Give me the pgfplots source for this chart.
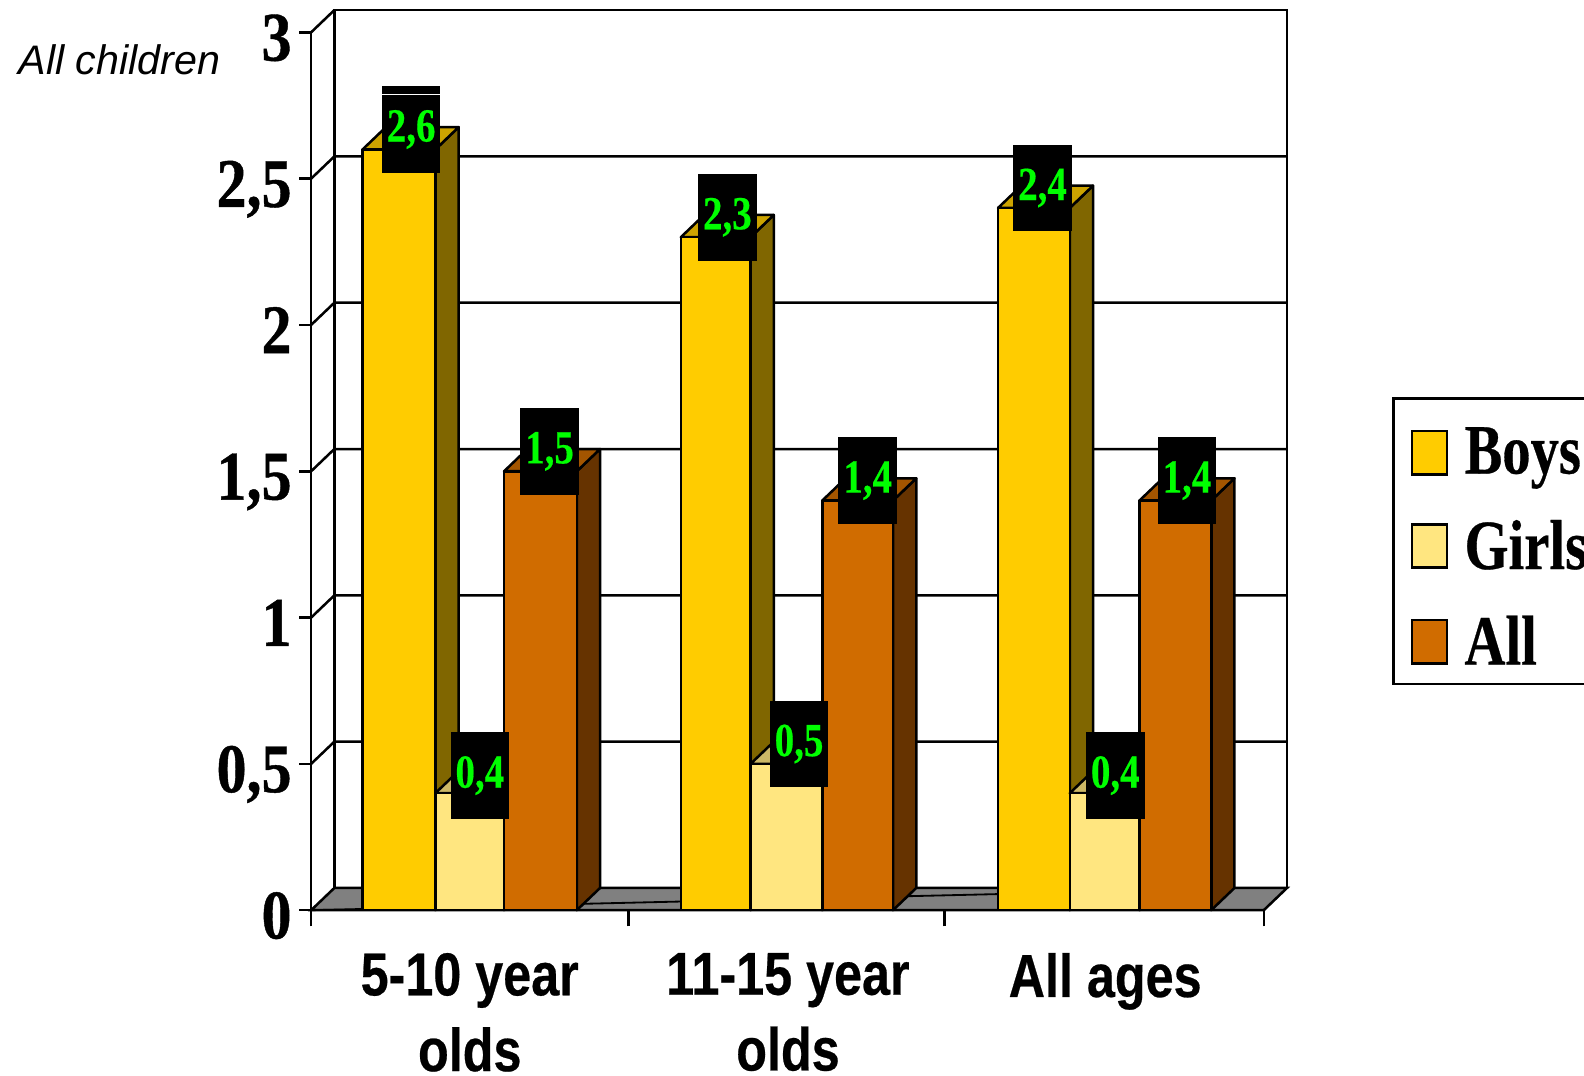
\documentclass[border=0pt]{standalone}
\usepackage{fontspec}
\setmainfont{Liberation Serif}
\newfontfamily\numfont[FakeStretch=0.86,FakeBold=0.6]{Liberation Serif Bold}
\newfontfamily\legfont[FakeStretch=0.80,FakeBold=0.4]{Liberation Serif Bold}
\newfontfamily\labfont[FakeStretch=0.82,FakeBold=0.4]{Liberation Serif Bold}
\newfontfamily\catfont[FakeStretch=0.83,FakeBold=0.4]{Liberation Sans Bold}
\newfontfamily\notefont{Liberation Sans}
\usepackage{pgfplots}
\usepackage{pgfplotstable}
\pgfplotsset{compat=1.18}
\definecolor{boysF}{HTML}{FFCC00}
\definecolor{boysS}{HTML}{806600}
\definecolor{boysT}{HTML}{CCA300}
\definecolor{girlsF}{HTML}{FFE680}
\definecolor{girlsS}{HTML}{806600}
\definecolor{girlsT}{HTML}{CCB866}
\definecolor{allF}{HTML}{D06C00}
\definecolor{allS}{HTML}{663300}
\definecolor{allT}{HTML}{A35500}
\definecolor{floorC}{HTML}{808080}
% x0, x0+23, x1, x1+23, value, value+depth, front, side, top
\newcommand{\threebar}[9]{%
  \addplot[forget plot,draw=black,line width=1.25pt,line join=round,fill=#8] coordinates {(#3,0) (#4,0.076) (#4,#6) (#3,#5)} -- cycle;
  \addplot[forget plot,draw=black,line width=1.25pt,line join=round,fill=#9] coordinates {(#1,#5) (#2,#6) (#4,#6) (#3,#5)} -- cycle;
  \addplot[forget plot,draw=black,line width=1.25pt,line join=round,fill=#7] coordinates {(#1,0) (#1,#5) (#3,#5) (#3,0)} -- cycle;
}
\begin{document}
\begin{tikzpicture}[x=1pt,y=1pt]
\path[use as bounding box,clip] (0,0) rectangle (784,532.5);
\begin{axis}[
  at={(154pt,82pt)},anchor=south west,
  scale only axis,width=471.5pt,height=434.5pt,
  xmin=308,xmax=1251,ymin=0,ymax=3,
  clip=false,
  axis lines=left,
  axis line style={-,line width=1.25pt},
  tick align=outside,
  tick style={black,line width=1.25pt},
  tickwidth=6pt,subtickwidth=8pt,
  ytick={0,0.5,1,1.5,2,2.5,3},
  /pgf/number format/assume math mode=true,
  /pgf/number format/use comma,
  y tick label style={font=\fontsize{34.5}{40}\selectfont\numfont,inner sep=0pt,
    anchor=east,text height=23pt,text depth=0pt,xshift=-3.5pt,yshift=-2.5pt},
  xtick={465,780,1094},
  xticklabels={{5-10 year\\olds},{11-15 year\\olds},{All ages}},
  minor xtick={308,622,935,1251},
  major x tick style={draw=none},
  x tick label style={font=\fontsize{30}{37.5}\selectfont\catfont,align=center,anchor=north,inner sep=0pt,yshift=-15pt},
  legend image code/.code={\draw[#1,line width=1.25pt] (0pt,-10.75pt) rectangle (17.5pt,10.75pt);},
  legend style={at={(1.1347,0.5846)},anchor=north west,draw=black,line width=1.25pt,
    font=\fontsize{35}{40}\selectfont\legfont,
    legend cell align=left,row sep=17.5pt,column sep=6pt,inner xsep=8.5pt,inner ysep=6pt},
  after end axis/.code={\draw[white,line width=0.75pt] (axis cs:378,2.788) -- (axis cs:436,2.788);},
]
% back wall, floor, grid
\addplot[forget plot,draw=black,line width=1.25pt,fill=white] coordinates {(331,0.076) (331,3.076) (1274,3.076) (1274,0.076)} -- cycle;
\addplot[forget plot,draw=black,line width=1.25pt,fill=floorC] coordinates {(308,0) (331,0.076) (1274,0.076) (1251,0)} -- cycle;
\addplot[forget plot,black,line width=0.9pt] coordinates {(308,0) (1000,0.056)};
\addplot[forget plot,black,line width=1.25pt] coordinates {(308,3) (331,3.076)};
\addplot[forget plot,black,line width=1.25pt] coordinates {(308,2.5) (331,2.576) (1274,2.576)};
\addplot[forget plot,black,line width=1.25pt] coordinates {(308,2) (331,2.076) (1274,2.076)};
\addplot[forget plot,black,line width=1.25pt] coordinates {(308,1.5) (331,1.576) (1274,1.576)};
\addplot[forget plot,black,line width=1.25pt] coordinates {(308,1) (331,1.076) (1274,1.076)};
\addplot[forget plot,black,line width=1.25pt] coordinates {(308,0.5) (331,0.576) (1274,0.576)};
% bars: 5-10 year olds
\threebar{359}{382}{431}{454}{2.6}{2.676}{boysF}{boysS}{boysT}
\threebar{431}{454}{499}{522}{0.4}{0.476}{girlsF}{girlsS}{girlsT}
\threebar{499}{522}{571}{594}{1.5}{1.576}{allF}{allS}{allT}
% bars: 11-15 year olds
\threebar{674}{697}{743}{766}{2.3}{2.376}{boysF}{boysS}{boysT}
\threebar{743}{766}{814}{837}{0.5}{0.576}{girlsF}{girlsS}{girlsT}
\threebar{814}{837}{884}{907}{1.4}{1.476}{allF}{allS}{allT}
% bars: all ages
\threebar{988}{1011}{1059}{1082}{2.4}{2.476}{boysF}{boysS}{boysT}
\threebar{1059}{1082}{1128}{1151}{0.4}{0.476}{girlsF}{girlsS}{girlsT}
\threebar{1128}{1151}{1199}{1222}{1.4}{1.476}{allF}{allS}{allT}
% data labels
\addplot[forget plot,draw=none,mark=none,point meta=explicit symbolic,
  nodes near coords,
  nodes near coords style={anchor=center,fill=black,text=green,inner sep=0pt,
    minimum width=29pt,minimum height=43pt,
    font=\fontsize{23.5}{28}\selectfont\labfont}]
  table[x=x,y=y,meta=lab] {
x y lab
407 2.668 2,6
475 0.460 0,4
544 1.568 1,5
720 2.368 2,3
791 0.568 0,5
859 1.468 1,4
1032 2.468 2,4
1104 0.460 0,4
1175 1.468 1,4
};
\node[anchor=base west,inner sep=0pt,font=\fontsize{20.4}{24}\selectfont\notefont\itshape] at (axis cs:18,2.855) {All children};
\addlegendimage{fill=boysF,draw=black,yshift=-3.5pt}
\addlegendentry{\rule{0pt}{29.25pt}Boys}
\addlegendimage{fill=girlsF,draw=black}
\addlegendentry{Girls}
\addlegendimage{fill=allF,draw=black}
\addlegendentry{All}
\end{axis}
\end{tikzpicture}
\end{document}
